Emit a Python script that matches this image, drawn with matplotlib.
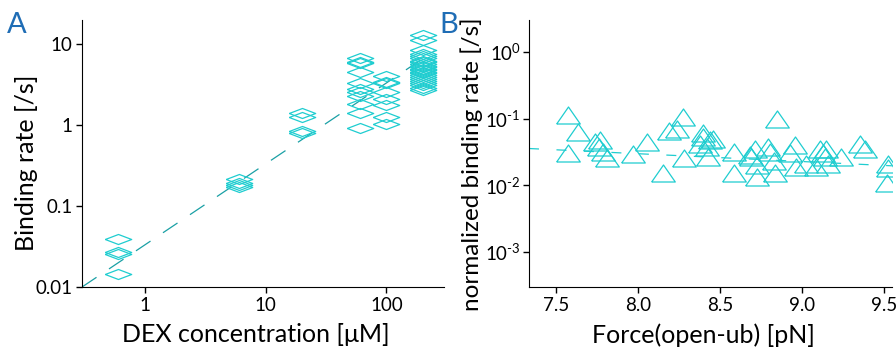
import numpy as np
import matplotlib

matplotlib.use("Agg")
import matplotlib.pyplot as plt
from matplotlib.ticker import FixedLocator, NullLocator

plt.rcParams["font.family"] = ["Lato", "DejaVu Sans"]
plt.rcParams["mathtext.fontset"] = "custom"
plt.rcParams["mathtext.rm"] = "Lato"
plt.rcParams["mathtext.it"] = "Lato:italic"

# panel A: binding rate vs DEX concentration
conc_a = [0.6] * 4 + [6] * 4 + [20] * 4 + [60] * 11 + [100] * 8 + [200] * 23
rate_a = [
    0.039, 0.027, 0.0256, 0.0145,
    0.215, 0.195, 0.185, 0.17,
    1.41, 1.26, 0.84, 0.8,
    6.7, 6.0, 5.8, 4.5, 3.3, 2.8, 2.6, 2.3, 1.85, 1.4, 0.92,
    4.1, 3.4, 3.3, 2.55, 2.1, 1.8, 1.26, 1.03,
    12.9, 11.2, 8.4, 7.7, 7.1, 6.7, 6.3, 6.0, 5.7, 5.4, 5.2, 5.0,
    4.8, 4.6, 4.4, 4.2, 4.0, 3.7, 3.5, 3.3, 3.1, 2.9, 2.7,
]
fit_a_k = 0.0333  # [/s per uM]
fit_a_range = [0.3, 250]

# panel B: normalized binding rate vs force
force_b = [
    7.575, 7.632, 7.571, 7.738, 7.768, 7.76, 7.789, 7.809, 7.967, 8.053,
    8.15, 8.19, 8.24, 8.272, 8.282, 8.398, 8.40, 8.378, 8.439, 8.419,
    8.43, 8.46, 8.585, 8.585, 8.683, 8.713, 8.728, 8.728, 8.69, 8.795,
    8.805, 8.831, 8.835, 8.846, 8.927, 8.957, 8.963, 9.024, 9.085, 9.11,
    9.13, 9.15, 9.16, 9.14, 9.242, 9.358, 9.384, 9.526, 9.526, 9.52,
]
rate_b = [
    0.115, 0.063, 0.031, 0.045, 0.047, 0.038, 0.032, 0.0253, 0.029, 0.045,
    0.0155, 0.065, 0.071, 0.104, 0.026, 0.060, 0.053, 0.042, 0.047, 0.038,
    0.0267, 0.05, 0.032, 0.0155, 0.028, 0.0356, 0.020, 0.0134, 0.027, 0.038,
    0.032, 0.023, 0.0151, 0.10, 0.030, 0.040, 0.019, 0.021, 0.019, 0.0356,
    0.030, 0.0356, 0.021, 0.027, 0.0267, 0.042, 0.0356, 0.021, 0.018, 0.0107,
]
fit_b_log10_a = -0.590
fit_b_slope = -0.117  # log10 per pN
fit_b_range = [7.335, 9.55]

cyan = "#1fcdd0"
teal = "#1aa0a5"
panel_blue = "#1f6db5"

diamond = [(-1, 0), (0, 0.38), (1, 0), (0, -0.38), (-1, 0)]
triangle = [(-1, -0.72), (0, 0.72), (1, -0.72), (-1, -0.72)]

fig = plt.figure(figsize=(8.96, 3.47), dpi=100)
ax_a = fig.add_axes([0.0915, 0.1729, 0.404, 0.7695])
ax_b = fig.add_axes([0.5904, 0.1729, 0.405, 0.7695])

# --- A ---
xs = np.logspace(np.log10(fit_a_range[0]), np.log10(fit_a_range[1]), 50)
ax_a.plot(xs, fit_a_k * xs, color=teal, lw=0.9, dashes=(14, 12))
ax_a.plot(conc_a, rate_a, ls="none", marker=diamond, ms=19, mfc="none",
          mec=cyan, mew=0.9)
ax_a.set_xscale("log")
ax_a.set_yscale("log")
ax_a.set_xlim(0.3, 300)
ax_a.set_ylim(0.01, 20)
ax_a.xaxis.set_major_locator(FixedLocator([1, 10, 100]))
ax_a.set_xticklabels(["1", "10", "100"])
ax_a.yaxis.set_major_locator(FixedLocator([0.01, 0.1, 1, 10]))
ax_a.set_yticklabels(["0.01", "0.1", "1", "10"])
ax_a.set_xlabel("DEX concentration [\u03bcM]", fontsize=18)
ax_a.set_ylabel("Binding rate [/s]", fontsize=18)
ax_a.xaxis.set_label_coords(0.48, -0.135, transform=ax_a.transAxes)
ax_a.yaxis.set_label_coords(-0.121, 0.464, transform=ax_a.transAxes)

# --- B ---
fx = np.linspace(fit_b_range[0], fit_b_range[1], 50)
ax_b.plot(fx, 10 ** (fit_b_log10_a + fit_b_slope * fx), color=cyan, lw=0.9,
          dashes=(8, 14))
ax_b.plot(force_b, rate_b, ls="none", marker=triangle, ms=17, mfc="none",
          mec=cyan, mew=0.9)
ax_b.set_yscale("log")
ax_b.set_xlim(7.335, 9.55)
ax_b.set_ylim(3e-4, 3)
ax_b.xaxis.set_major_locator(FixedLocator([7.5, 8.0, 8.5, 9.0, 9.5]))
ax_b.set_xticklabels(["7.5", "8.0", "8.5", "9.0", "9.5"])
ax_b.yaxis.set_major_locator(FixedLocator([1e-3, 1e-2, 1e-1, 1]))
ax_b.set_yticklabels([r"$10^{\text{-3}}$", r"$10^{\text{-2}}$",
                      r"$10^{\text{-1}}$", r"$10^{0}$"])
ax_b.set_xlabel("Force(open-ub) [pN]", fontsize=18)
ax_b.set_ylabel("normalized binding rate [/s]", fontsize=17.5)
ax_b.xaxis.set_label_coords(0.48, -0.135, transform=ax_b.transAxes)
ax_b.yaxis.set_label_coords(-0.128, 0.461, transform=ax_b.transAxes)

for ax in (ax_a, ax_b):
    ax.spines["top"].set_visible(False)
    ax.spines["right"].set_visible(False)
    ax.xaxis.set_minor_locator(NullLocator())
    ax.yaxis.set_minor_locator(NullLocator())
    ax.tick_params(direction="out", length=4, width=1, labelsize=13.5, pad=3)
ax_b.tick_params(axis="y", pad=2)

fig.text(0.008, 0.905, "A", fontsize=21, color=panel_blue)
fig.text(0.49, 0.905, "B", fontsize=21, color=panel_blue)

fig.savefig("out.png", dpi=100)
